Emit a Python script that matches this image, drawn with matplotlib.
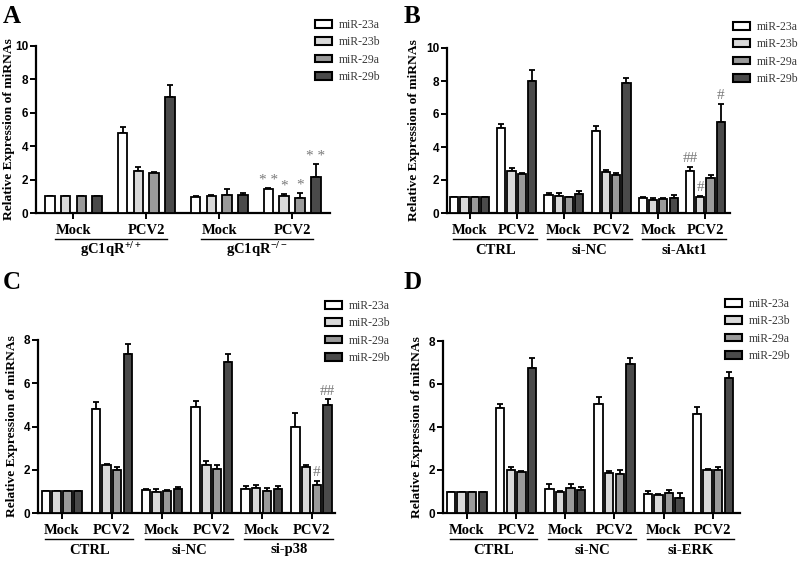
import matplotlib
matplotlib.use("Agg")
import matplotlib.pyplot as plt
import matplotlib.transforms as mtransforms
from matplotlib.patches import Patch
import numpy as np

plt.rcParams['mathtext.fontset'] = 'custom'
plt.rcParams['mathtext.rm'] = 'Liberation Serif:bold'
plt.rcParams['mathtext.bf'] = 'Liberation Serif:bold'
plt.rcParams['mathtext.it'] = 'Liberation Serif:bold'

SERIF = 'Liberation Serif'
SANS = 'Liberation Sans'

# ---------------- data ----------------
series = ['miR-23a', 'miR-23b', 'miR-29a', 'miR-29b']
colors = ['#ffffff', '#d9d9d9', '#9a9a9a', '#4a4a4a']

# Panel A
a_conditions = ['Mock', 'PCV2', 'Mock', 'PCV2']
a_cells = ['gC1qR$^{+/+}$', 'gC1qR$^{-/-}$']
a_23a = [1.0, 4.78, 0.96, 1.45]
a_23b = [1.0, 2.50, 1.02, 1.00]
a_29a = [1.0, 2.40, 1.10, 0.90]
a_29b = [1.0, 6.95, 1.10, 2.13]
a_23a_err = [0.0, 0.35, 0.05, 0.05]
a_23b_err = [0.0, 0.28, 0.04, 0.12]
a_29a_err = [0.0, 0.06, 0.33, 0.28]
a_29b_err = [0.0, 0.73, 0.10, 0.80]
a_marks = [(3, 0, '* *'), (3, 1, '*'), (3, 2, '*'), (3, 3, '* *')]

# Panel B
b_conditions = ['Mock', 'PCV2', 'Mock', 'PCV2', 'Mock', 'PCV2']
b_cells = ['CTRL', 'si-NC', 'si-Akt1']
b_23a = [1.0, 5.15, 1.10, 5.00, 0.92, 2.55]
b_23b = [1.0, 2.55, 1.05, 2.50, 0.78, 1.00]
b_29a = [1.0, 2.35, 0.95, 2.30, 0.85, 2.10]
b_29b = [1.0, 7.98, 1.15, 7.90, 0.90, 5.50]
b_23a_err = [0.0, 0.27, 0.10, 0.30, 0.05, 0.25]
b_23b_err = [0.0, 0.20, 0.15, 0.10, 0.10, 0.05]
b_29a_err = [0.0, 0.05, 0.05, 0.15, 0.05, 0.20]
b_29b_err = [0.0, 0.70, 0.20, 0.30, 0.20, 1.12]
b_marks = [(5, 0, '##'), (5, 1, '#'), (5, 3, '#')]

# Panel C
c_conditions = ['Mock', 'PCV2', 'Mock', 'PCV2', 'Mock', 'PCV2']
c_cells = ['CTRL', 'si-NC', 'si-p38']
c_23a = [1.0, 4.81, 1.05, 4.89, 1.10, 4.00]
c_23b = [1.0, 2.20, 0.95, 2.20, 1.15, 2.15]
c_29a = [1.0, 2.00, 1.00, 2.05, 1.00, 1.30]
c_29b = [1.0, 7.33, 1.10, 6.99, 1.10, 5.00]
c_23a_err = [0.0, 0.33, 0.05, 0.30, 0.15, 0.62]
c_23b_err = [0.0, 0.05, 0.15, 0.20, 0.15, 0.08]
c_29a_err = [0.0, 0.15, 0.05, 0.15, 0.15, 0.20]
c_29b_err = [0.0, 0.50, 0.10, 0.38, 0.15, 0.27]
c_marks = [(5, 2, '#'), (5, 3, '##')]

# Panel D
d_conditions = ['Mock', 'PCV2', 'Mock', 'PCV2', 'Mock', 'PCV2']
d_cells = ['CTRL', 'si-NC', 'si-ERK']
d_23a = [1.0, 4.90, 1.10, 5.05, 0.88, 4.62]
d_23b = [1.0, 1.98, 0.97, 1.85, 0.85, 2.00]
d_29a = [1.0, 1.90, 1.15, 1.80, 0.92, 2.00]
d_29b = [1.0, 6.75, 1.05, 6.95, 0.72, 6.30]
d_23a_err = [0.0, 0.18, 0.25, 0.33, 0.15, 0.33]
d_23b_err = [0.0, 0.15, 0.05, 0.10, 0.05, 0.05]
d_29a_err = [0.0, 0.05, 0.20, 0.20, 0.15, 0.15]
d_29b_err = [0.0, 0.45, 0.15, 0.25, 0.20, 0.25]
d_marks = []

# ---------------- figure ----------------
W, H = 800, 563
fig = plt.figure(figsize=(W / 100, H / 100), dpi=100)


def px(x, y):
    return x / W, 1 - y / H


def panel(letter, letter_xy, box, ymax, vals, errs, conditions, cells, marks,
          bw, gsp, padl, padr, ul, legend_xy, ylabel_x):
    left, right, y0, ytop = box
    ax = fig.add_axes([left / W, 1 - y0 / H, (right - left) / W, (y0 - ytop) / H])
    ng = len(conditions)
    centers = np.arange(ng) * gsp
    offs = np.array([-1.5, -0.5, 0.5, 1.5])
    for i, (v, e) in enumerate(zip(vals, errs)):
        x = centers + offs[i]
        ax.bar(x, v, width=bw, color=colors[i], edgecolor='black', linewidth=1.3, zorder=3)
        ax.errorbar(x, v, yerr=[np.zeros(len(e)), e], fmt='none', ecolor='black',
                    elinewidth=1.3, capsize=2.4, capthick=1.3, zorder=2)
    # significance marks
    for g, s, t in marks:
        top = vals[s][g] + errs[s][g]
        ax.annotate(t, (centers[g] + offs[s], top), xytext=(0, 1), textcoords='offset points',
                    ha='center', va='bottom', fontsize=11, color='#7a7a7a',
                    family=SERIF, zorder=4)
    ax.set_xlim(centers[0] - 1.5 - bw / 2 - padl, centers[-1] + 1.5 + bw / 2 + padr)
    ax.set_ylim(0, ymax)
    ax.set_yticks(np.arange(0, ymax + 1, 2))
    ax.set_xticks(centers)
    ax.set_xticklabels([])
    for sp in ['top', 'right']:
        ax.spines[sp].set_visible(False)
    for sp in ['left', 'bottom']:
        ax.spines[sp].set_linewidth(1.6)
    ax.tick_params(axis='both', direction='out', length=4, width=1.4, pad=1.5)
    for lab in ax.get_yticklabels():
        lab.set_family(SANS)
        lab.set_fontweight('bold')
        lab.set_fontsize(8.5)
    ax.set_ylabel('Relative Expression of miRNAs', family=SERIF, fontweight='bold', fontsize=9.7)
    ax.yaxis.set_label_coords((ylabel_x - left) / (right - left), 0.5)

    tr = mtransforms.blended_transform_factory(ax.transData, fig.transFigure)
    cond_y = 1 - (y0 + 18) / H
    line_y = 1 - (y0 + 26) / H
    cell_y = 1 - (y0 + 37) / H
    for c, lab in zip(centers, conditions):
        ax.text(c, cond_y, lab, transform=tr, ha='center', va='center', family=SERIF,
                fontweight='bold', fontsize=10.5)
    for k, lab in enumerate(cells):
        c0, c1 = centers[2 * k], centers[2 * k + 1]
        x0, x1 = c0 + ul[0], c1 + ul[1]
        ax.plot([x0, x1], [line_y, line_y], transform=tr, color='black', lw=1.0, clip_on=False)
        ax.text((x0 + x1) / 2, cell_y, lab, transform=tr, ha='center', va='center',
                family=SERIF, fontweight='bold', fontsize=10.5)

    handles = [Patch(facecolor=colors[i], edgecolor='black', linewidth=1.5, label=series[i])
               for i in range(4)]
    fig.legend(handles=handles, loc='upper left', bbox_to_anchor=px(*legend_xy),
               frameon=False, borderpad=0, borderaxespad=0, handlelength=1.45,
               handleheight=0.65, handletextpad=0.6, labelspacing=0.45,
               prop={'family': SERIF, 'size': 8.5}, labelcolor='#3a3a3a')
    fig.text(*px(*letter_xy), letter, family=SERIF, fontweight='bold', fontsize=18,
             ha='left', va='baseline')
    return ax


panel('A', (3, 23), (36, 330, 213, 46), 10,
      [a_23a, a_23b, a_29a, a_29b], [a_23a_err, a_23b_err, a_29a_err, a_29b_err],
      a_conditions, a_cells, a_marks, 0.61, 4.62, 0.57, 0.6, (-1.15, 1.3), (315, 19), 15)
panel('B', (404, 23), (447, 730, 213, 48), 10,
      [b_23a, b_23b, b_29a, b_29b], [b_23a_err, b_23b_err, b_29a_err, b_29b_err],
      b_conditions, b_cells, b_marks, 0.8, 4.6, 0.3, 0.5, (-1.6, 2.0), (733, 21), 420)
panel('C', (3, 289), (38, 335, 513, 340), 8,
      [c_23a, c_23b, c_29a, c_29b], [c_23a_err, c_23b_err, c_29a_err, c_29b_err],
      c_conditions, c_cells, c_marks, 0.78, 4.65, 0.35, 0.3, (-1.6, 2.0), (325, 300), 18)
panel('D', (404, 289), (443, 740, 513, 341), 8,
      [d_23a, d_23b, d_29a, d_29b], [d_23a_err, d_23b_err, d_29a_err, d_29b_err],
      d_conditions, d_cells, d_marks, 0.8, 4.64, 0.35, 0.66, (-1.6, 2.0), (725, 298), 423)

fig.savefig('out.png', dpi=100)
